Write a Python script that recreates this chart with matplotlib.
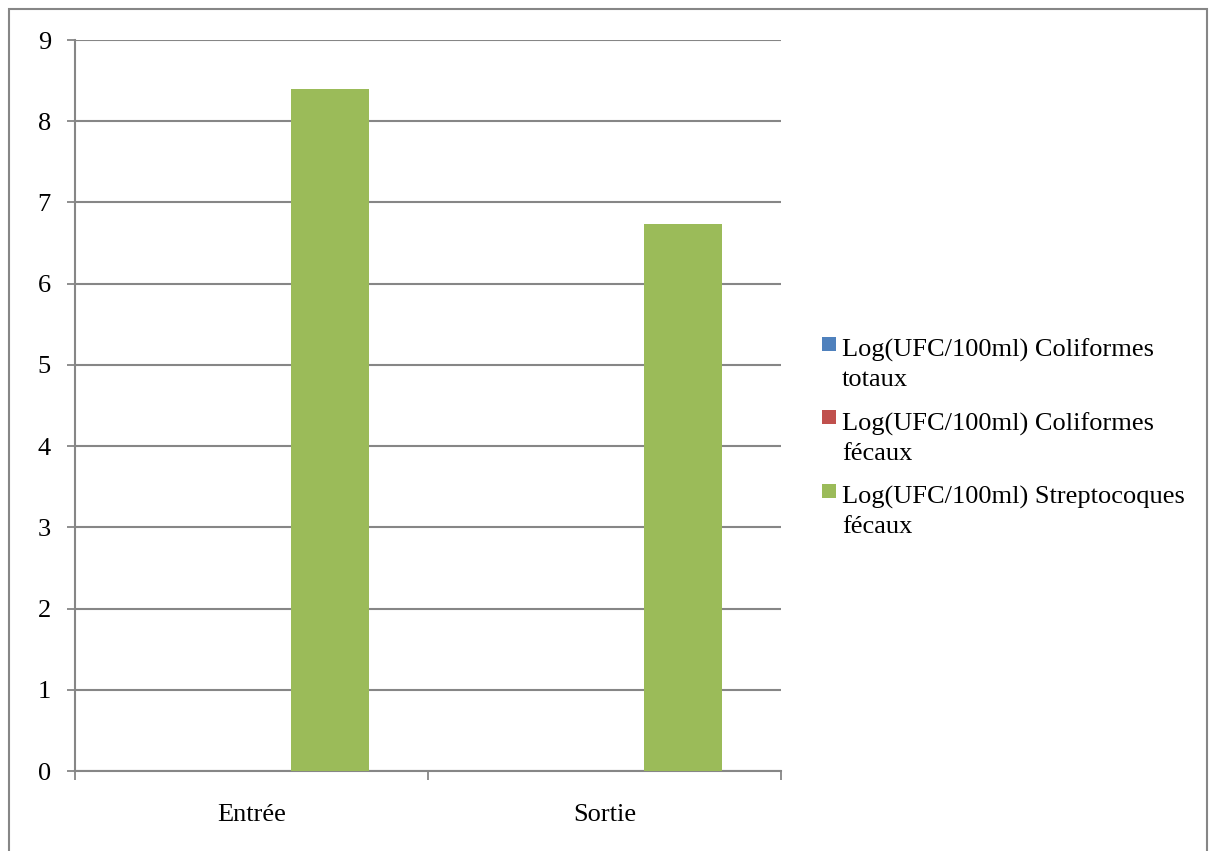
import matplotlib
matplotlib.use("Agg")
import matplotlib.pyplot as plt
import numpy as np
from matplotlib.patches import Rectangle

# Bacterial counts at the inlet / outlet, log10(CFU/100 ml)
categories = ["Entrée", "Sortie"]
series_labels = [
    "Log(UFC/100ml) Coliformes\ntotaux",
    "Log(UFC/100ml) Coliformes\nfécaux",
    "Log(UFC/100ml) Streptocoques\nfécaux",
]
coliformes_totaux = [0, 0]
coliformes_fecaux = [0, 0]
streptocoques_fecaux = [8.4, 6.73]

colors = ["#4F81BD", "#C0504D", "#9BBB59"]
grid_color = "#868686"
FONT_SIZE = 19

plt.rcParams["font.family"] = ["Liberation Serif", "DejaVu Serif"]

fig = plt.figure(figsize=(12.11, 8.51), dpi=100)
W, H = 1211, 851
ax = fig.add_axes([75 / W, (H - 771) / H, (781 - 75) / W, (771 - 40) / H])

# outer chart border
fig.patches.append(Rectangle((9 / W, -0.01), (1207 - 9) / W, (H - 9) / H + 0.01,
                             transform=fig.transFigure, fill=False,
                             edgecolor=grid_color, linewidth=1.5))

x = np.arange(len(categories))
width = 0.221
all_series = [coliformes_totaux, coliformes_fecaux, streptocoques_fecaux]
for i, (vals, col) in enumerate(zip(all_series, colors)):
    ax.bar(x + (i - 1) * width, vals, width, color=col, zorder=3)

ax.set_xlim(-0.5, len(categories) - 0.5)
ax.set_ylim(0, 9)
ax.set_yticks(range(0, 10))
ax.yaxis.grid(True, color=grid_color, linewidth=1.5, zorder=0)
ax.set_axisbelow(True)

ax.set_xticks(x)
ax.set_xticklabels(categories)
ax.set_xticks(np.arange(-0.5, len(categories)), minor=True)
ax.tick_params(axis="x", which="major", length=0, pad=24, labelsize=FONT_SIZE)
ax.tick_params(axis="x", which="minor", length=6.5, width=1.3, color=grid_color, direction="out")
ax.tick_params(axis="y", length=5.8, width=1.3, color=grid_color, direction="out",
               pad=11.5, labelsize=FONT_SIZE)

for side in ("top", "right"):
    ax.spines[side].set_visible(False)
for side in ("left", "bottom"):
    ax.spines[side].set_color(grid_color)
    ax.spines[side].set_linewidth(1.5)

# legend: square key aligned with the first line of each wrapped label
legend_x, legend_y0, legend_step = 822, 347, 73.5
key = 14
for i, (lab, col) in enumerate(zip(series_labels, colors)):
    y_line1 = legend_y0 + i * legend_step
    fig.patches.append(Rectangle((legend_x / W, 1 - (y_line1 + 4) / H), key / W, key / H,
                                 transform=fig.transFigure, facecolor=col,
                                 edgecolor="none"))
    fig.text((legend_x + key + 6) / W, 1 - (y_line1 + 18) / H, lab,
             fontsize=FONT_SIZE, ha="left", va="center", linespacing=1.41)

fig.savefig("out.png", dpi=100, facecolor="white")
